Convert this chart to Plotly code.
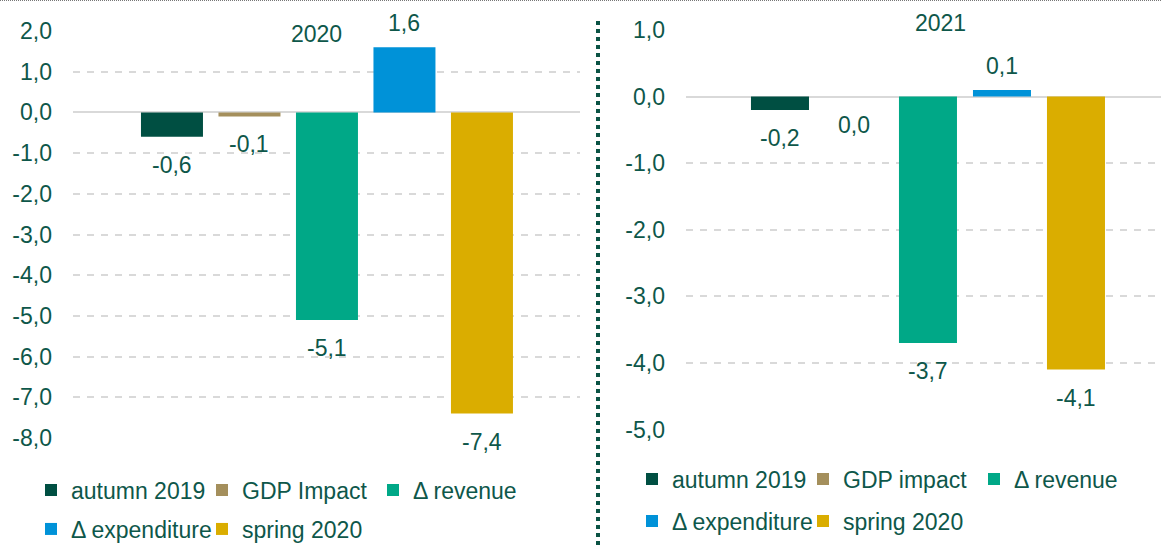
import plotly.graph_objects as go

# ---------------- data ----------------
series_2020 = ["autumn 2019", "GDP Impact", "Δ revenue", "Δ expenditure", "spring 2020"]
values_2020 = [-0.6, -0.1, -5.1, 1.6, -7.4]

series_2021 = ["autumn 2019", "GDP impact", "Δ revenue", "Δ expenditure", "spring 2020"]
values_2021 = [-0.2, 0.0, -3.7, 0.1, -4.1]

colors = ["#004F42", "#A48F5C", "#00A887", "#0092D8", "#DAAD00"]
year_labels = ["2020", "2021"]

tickvals_2020 = [2, 1, 0, -1, -2, -3, -4, -5, -6, -7, -8]
ticktext_2020 = ["2,0", "1,0", "0,0", "-1,0", "-2,0", "-3,0", "-4,0", "-5,0", "-6,0", "-7,0", "-8,0"]
tickvals_2021 = [1, 0, -1, -2, -3, -4, -5]
ticktext_2021 = ["1,0", "0,0", "-1,0", "-2,0", "-3,0", "-4,0", "-5,0"]

# ---------------- style ----------------
W, H = 1161, 545
TXT = "#0E574A"
GRID = "#D9D9D9"
FONT = "Liberation Sans, Arial, sans-serif"
FS = 23


def fmt(v):
    return f"{v:.1f}".replace(".", ",")


fig = go.Figure()

panels = [
    dict(series=series_2020, values=values_2020, xa="x", ya="y",
         legends=("legend", "legend2"), width=0.8),
    dict(series=series_2021, values=values_2021, xa="x2", ya="y2",
         legends=("legend3", "legend4"), width=0.784),
]

annotations = []
for p in panels:
    for i, (name, val) in enumerate(zip(p["series"], p["values"])):
        fig.add_trace(go.Bar(
            x=[name], y=[val], name=name,
            marker=dict(color=colors[i], line=dict(width=0)),
            width=p["width"],
            xaxis=p["xa"], yaxis=p["ya"],
            legend=p["legends"][0] if i < 3 else p["legends"][1],
            hoverinfo="skip",
        ))
        annotations.append(dict(
            x=name, y=val, xref=p["xa"], yref=p["ya"],
            text=fmt(val), showarrow=False,
            font=dict(family=FONT, size=FS, color=TXT),
            xanchor="center", yanchor="middle",
            yshift=(24 if val > 0 else -28),
        ))

# year labels
annotations.append(dict(x=316 / W, y=1 - 34 / H, xref="paper", yref="paper",
                        text=year_labels[0], showarrow=False,
                        font=dict(family=FONT, size=FS, color=TXT),
                        xanchor="center", yanchor="middle"))
annotations.append(dict(x=940 / W, y=1 - 23 / H, xref="paper", yref="paper",
                        text=year_labels[1], showarrow=False,
                        font=dict(family=FONT, size=FS, color=TXT),
                        xanchor="center", yanchor="middle"))

common_y = dict(
    showgrid=True, gridcolor=GRID, gridwidth=1.5, griddash="7px,7px",
    zeroline=True, zerolinecolor=GRID, zerolinewidth=2,
    showline=False, ticks="", ticklabelstandoff=20, automargin=False,
    tickfont=dict(family=FONT, size=FS, color=TXT),
    fixedrange=True,
)
common_x = dict(showgrid=False, zeroline=False, showline=False, automargin=False,
                showticklabels=False, ticks="", fixedrange=True)

legend_common = dict(
    orientation="h", xanchor="left", yanchor="middle",
    font=dict(family=FONT, size=FS, color=TXT),
    bgcolor="rgba(0,0,0,0)", entrywidth=126, entrywidthmode="pixels",
    itemwidth=30, traceorder="normal", itemclick=False, itemdoubleclick=False,
)

fig.update_layout(
    width=W, height=H,
    margin=dict(l=0, r=0, t=0, b=0, pad=0, autoexpand=False),
    paper_bgcolor="white", plot_bgcolor="white",
    barmode="overlay",
    showlegend=True,
    font=dict(family=FONT, size=FS, color=TXT),
    xaxis=dict(domain=[73 / W, 580 / W], range=[-1.277, 5.265], anchor="y", **common_x),
    yaxis=dict(domain=[1 - 438 / H, 1 - 31 / H], range=[-8, 2], anchor="x",
               tickvals=tickvals_2020, ticktext=ticktext_2020, **common_y),
    xaxis2=dict(domain=[686 / W, 1.0], range=[-1.27, 5.149], anchor="y2", **common_x),
    yaxis2=dict(domain=[1 - 429.5 / H, 1 - 30 / H], range=[-5, 1], anchor="x2",
                tickvals=tickvals_2021, ticktext=ticktext_2021, **common_y),
    legend=dict(x=31 / W, y=1 - 490 / H, **legend_common),
    legend2=dict(x=31 / W, y=1 - 529 / H, **legend_common),
    legend3=dict(x=632 / W, y=1 - 479 / H, **legend_common),
    legend4=dict(x=632 / W, y=1 - 521 / H, **legend_common),
    annotations=annotations,
    shapes=[
        dict(type="line", xref="paper", yref="paper",
             x0=598 / W, x1=598 / W, y0=0, y1=1 - 17 / H,
             line=dict(color="#0B5345", width=4, dash="dot")),
        dict(type="line", xref="paper", yref="paper",
             x0=0, x1=1, y0=1 - 0.5 / H, y1=1 - 0.5 / H,
             line=dict(color="#777777", width=1, dash="1px,1px")),
    ],
)

fig.write_html(
    "out.html",
    config={"displayModeBar": False},
    post_script="document.body.style.margin='0';document.body.style.overflow='hidden';",
)
